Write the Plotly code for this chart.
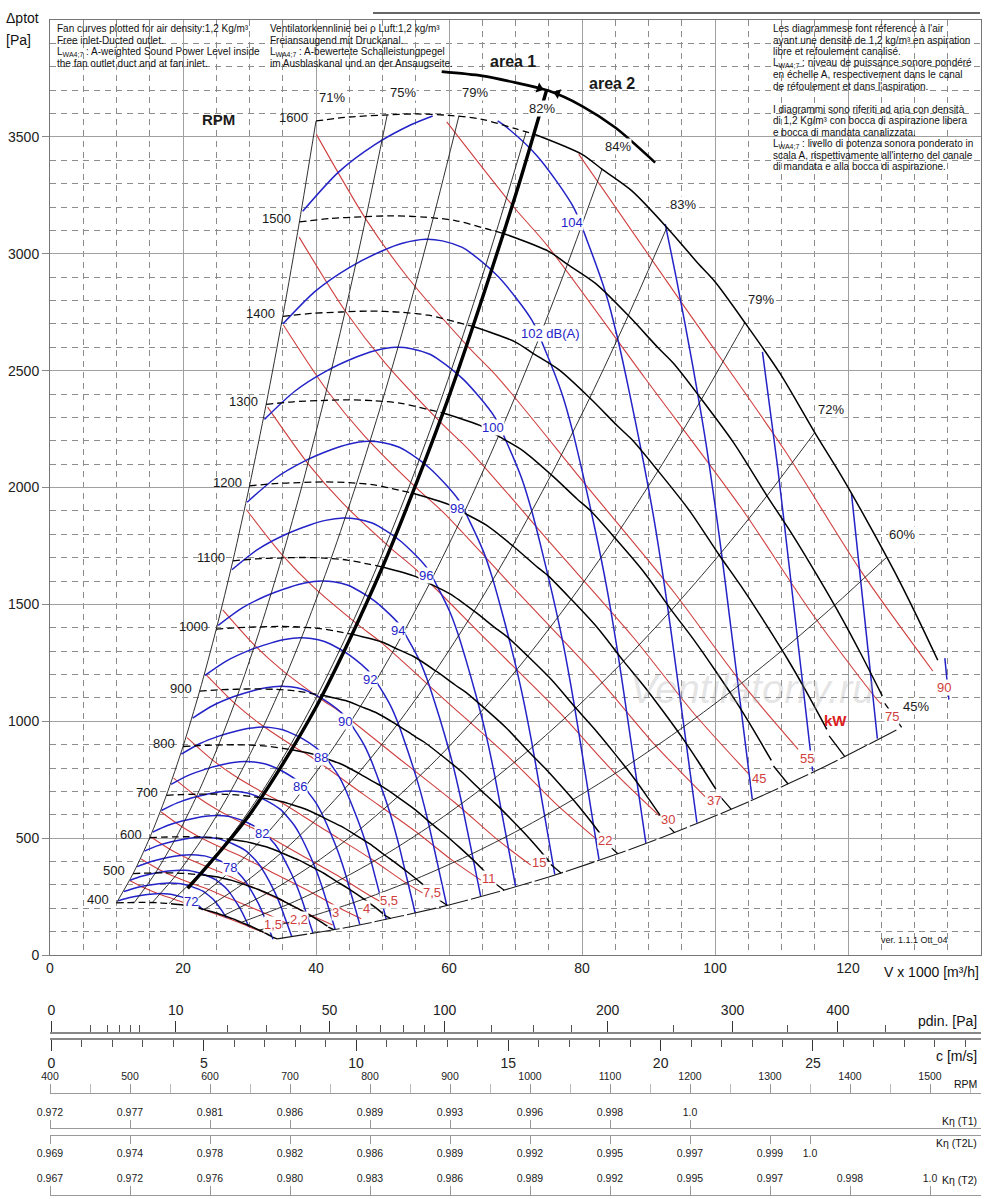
import numpy as np
import plotly.graph_objects as go

# ---------------- values ----------------
# flow V in 1000 m3/h, total pressure in Pa

rpm_list = [400, 500, 600, 700, 800, 900, 1000, 1100, 1200, 1300, 1400, 1500, 1600]

# 1600 rpm characteristic; the other speeds follow the fan laws (V ~ n, dp ~ n^2)
v_1600 = [40, 45, 50, 55, 60, 65, 70, 72.75, 80, 83, 87.5, 93, 97.5, 100,
          104.5, 109.8, 115, 119, 123, 127, 130, 133.5]
p_1600 = [3568, 3585, 3593, 3598, 3592, 3575, 3535, 3512, 3425, 3362, 3269,
          3105, 2957, 2880, 2705, 2487, 2235, 2050, 1850, 1640, 1470, 1261]
n_dashed = 8                      # points left of the area 1 / area 2 boundary
runout_v = [133.9, 136.6]         # short run-out down to the lower limit
runout_p = [1225, 1108]

# iso-efficiency parabolas, given by the point where they meet the 1600 rpm curve
eff_text = ["71%", "75%", "79%", "82%", "84%", "83%", "79%", "72%", "60%"]
eff_v = [40, 50.7, 61.5, 71.6, 83, 92.75, 104.5, 115, 125.75]
eff_p = [3568, 3593, 3590, 3522, 3362, 3112, 2705, 2235, 1700]

# lower limit of the field (45%)
lim_v = [34.15, 45, 60, 75, 90, 105, 117, 127.5]
lim_p = [69, 120, 214, 334, 481, 655, 813, 966]

# thick boundary between area 1 and area 2, and the arc with the arrows
area_v = [20.7, 30, 40, 50, 60, 70, 74.7]
area_p = [285, 600, 1060, 1660, 2390, 3250, 3703]
arc_v = [58.9, 65, 70, 75, 80, 85, 91]
arc_p = [3779, 3761, 3732, 3697, 3632, 3540, 3390]
arrow_v = [73.6, 76.3]
arrow_p = [3708, 3686]

# sound power: the 102 dB(A) line; the other levels are the same line moved along the fan laws
db_base_v = [35.0, 40, 45, 50, 53, 56.5, 59, 62, 63.2, 67.5, 72.5, 74.5, 77, 78.5,
             80, 82, 83.7, 85.5, 86.8, 88.2, 89.2, 89.6]
db_base_p = [2699, 2842, 2941, 3013, 3045, 3062, 3055, 3027, 3005, 2899, 2714, 2585,
             2400, 2251, 2073, 1816, 1575, 1271, 1023, 752, 558, 480]
db_levels = [72, 74, 76, 78, 80, 82, 84, 86, 88, 90, 92, 94, 96, 98, 100, 102,
             104, 106, 108, 110, 112]
db_start_v = [10.25, 11.1, 12.05, 13.1, 14.2, 15.45, 16.75, 18.2, 19.75, 21.45, 23.3,
              25.3, 27.35, 29.65, 32.25, 35.0, 38.0, 41.25, 44.8, 48.6, 52.8]
db_labelled = [72, 78, 82, 86, 88, 90, 92, 94, 96, 98, 100, 102, 104]
db_label_v, db_label_p = 72.3, 2660

# shaft power: the 90 kW line; the other sizes scale with n^3
kw_base_v = [47.2, 56.0, 63.4, 74.2, 79.5, 95, 110.5, 122, 132.75]
kw_base_p = [4875, 4370, 4025, 3610, 3426, 2790, 2158, 1640, 1215]
kw_values = [1.5, 2.2, 3, 4, 5.5, 7.5, 11, 15, 22, 30, 37, 45, 55, 75, 90]
kw_text = ["1,5", "2,2", "3", "4", "5,5", "7,5", "11", "15", "22", "30", "37", "45",
           "55", "75", "90"]
kw_end_v = [32.5, 36.0, 42.5, 46.8, 50.0, 56.25, 64.8, 72.3, 82.3, 91.6, 98.5, 105.2,
            112.5, 125.0, 132.75]
kw_label_v = [33.6, 37.5, 43.0, 47.6, 51.0, 57.4, 66.0, 73.6, 83.4, 93.0, 99.8, 106.6,
              113.8, 126.6, 134.4]
kw_label_p = [130, 150, 180, 201, 235, 269, 329, 396, 489, 580, 663, 755, 842, 1019, 1145]

# secondary scales under the chart
rho = 1.2
v_per_c = 4.58                      # 1000 m3/h per m/s of outlet velocity
pd_major = [0, 10, 50, 100, 200, 300, 400]
pd_minor = [1, 2, 3, 4, 5, 20, 30, 40, 60, 70, 80, 90, 125, 150, 175, 250, 350, 450]
c_major = [0, 5, 10, 15, 20, 25]
rpm_ticks = [400, 500, 600, 700, 800, 900, 1000, 1100, 1200, 1300, 1400, 1500]
rpm_minor = [450, 550, 650, 750, 850, 950, 1050, 1150, 1250, 1350, 1450, 1550]
k_t1_rpm = [400, 500, 600, 700, 800, 900, 1000, 1100, 1200]
k_t1 = ["0.972", "0.977", "0.981", "0.986", "0.989", "0.993", "0.996", "0.998", "1.0"]
k_t2l_rpm = [400, 500, 600, 700, 800, 900, 1000, 1100, 1200, 1300, 1350]
k_t2l = ["0.969", "0.974", "0.978", "0.982", "0.986", "0.989", "0.992", "0.995",
         "0.997", "0.999", "1.0"]
k_t2_rpm = [400, 500, 600, 700, 800, 900, 1000, 1100, 1200, 1300, 1400, 1500]
k_t2 = ["0.967", "0.972", "0.976", "0.980", "0.983", "0.986", "0.989", "0.992",
        "0.995", "0.997", "0.998", "1.0"]

# ---------------- page geometry ----------------
W, H = 1000, 1199
ML, MR, MT, MB = 50, 19, 20, 4
V_MAX = 140


def px_x(x):
    return (x - ML) / (W - ML - MR)


def px_y(y):
    return (H - MB - y) / (H - MT - MB)


BLUE = "rgb(35,35,200)"
RED = "rgb(208,62,62)"
FONT = "Liberation Sans, Arial, sans-serif"
NARROW = "Liberation Sans Narrow, Arial Narrow, Liberation Sans, sans-serif"

fig = go.Figure()


def fan_scale(vs, ps, s):
    return [v * s for v in vs], [p * s * s for p in ps]


def add_line(x, y, color, width, dash="solid", shape="spline"):
    fig.add_trace(go.Scatter(x=x, y=y, mode="lines", hoverinfo="skip", showlegend=False,
                             connectgaps=False,
                             line=dict(color=color, width=width, dash=dash, shape=shape,
                                       smoothing=0.8)))


low_v, low_p = fan_scale(v_1600, p_1600, 400 / 1600)


def trim(xs, ys):
    # keep only the part inside the fan field
    xa = np.asarray(xs, float)
    ya = np.asarray(ys, float)
    top = np.interp(xa, v_1600, p_1600)
    low = np.where(xa <= low_v[-1], np.interp(xa, low_v, low_p), np.interp(xa, lim_v, lim_p))
    ok = (ya <= top + 15) & (ya >= low - 10)
    return ([float(a) if k else None for a, k in zip(xa, ok)],
            [float(b) if k else None for b, k in zip(ya, ok)])


# power lines
for kw, end_v in zip(kw_values, kw_end_v):
    s = (kw / 90) ** (1 / 3)
    xs, ys = fan_scale(kw_base_v, kw_base_p, s)
    keep = [i for i, x in enumerate(xs) if x < end_v]
    xs = [xs[i] for i in keep] + [end_v]
    ys = [ys[i] for i in keep] + [float(np.interp(end_v / s, kw_base_v, kw_base_p)) * s * s]
    xs, ys = trim(xs, ys)
    add_line(xs, ys, RED, 1.1)

# sound lines
for lev, v0 in zip(db_levels, db_start_v):
    s = v0 / db_base_v[0]
    xs, ys = trim(*fan_scale(db_base_v, db_base_p, s))
    add_line(xs, ys, BLUE, 1.5)

# efficiency parabolas
for v0, p0 in zip(eff_v, eff_p):
    xs = [v0 * n / 1600 for n in rpm_list]
    ys = [p0 * (n / 1600) ** 2 for n in rpm_list]
    add_line(xs, ys, "#1a1a1a", 0.9)

add_line(lim_v, lim_p, "#1a1a1a", 1.1, dash="30px,3px")

# speed curves
for n in rpm_list:
    s = n / 1600
    xs, ys = fan_scale(v_1600, p_1600, s)
    add_line(xs[:n_dashed], ys[:n_dashed], "black", 1.3, dash="7px,4px")
    add_line(xs[n_dashed - 1:], ys[n_dashed - 1:], "black", 1.5)
    if n < 1600:
        rx, ry = fan_scale(runout_v, runout_p, s)
        add_line(rx, ry, "black", 1.3, shape="linear")

add_line(area_v, area_p, "black", 3.4)
add_line(arc_v, arc_p, "black", 2.6)
fig.add_trace(go.Scatter(x=arrow_v, y=arrow_p, mode="markers", hoverinfo="skip",
                         showlegend=False,
                         marker=dict(symbol=["triangle-right", "triangle-left"],
                                     angle=20, size=9, color="black")))

# hidden points so the extra scales get drawn
for ax_name, x0 in [("x2", 0), ("x3", 0), ("x4", 400), ("x5", 400), ("x6", 400), ("x7", 400)]:
    fig.add_trace(go.Scatter(x=[x0], y=[-500], xaxis=ax_name, yaxis="y", mode="markers",
                             marker=dict(size=1, opacity=0), hoverinfo="skip",
                             showlegend=False))

ann = []


def data_text(x, y, text, size=13, color="#1a1a1a", xanchor="center", yanchor="middle",
              xshift=0, yshift=0, bg=None, bold=False, family=FONT):
    a = dict(x=x, y=y, xref="x", yref="y", text=f"<b>{text}</b>" if bold else text,
             showarrow=False, xanchor=xanchor, yanchor=yanchor, xshift=xshift,
             yshift=yshift, font=dict(size=size, color=color, family=family),
             borderpad=0)
    if bg:
        a["bgcolor"] = bg
    ann.append(a)


def page_text(x, y, text, size=10, color="#111", xanchor="left", family=FONT, bold=False):
    ann.append(dict(x=px_x(x), y=px_y(y), xref="paper", yref="paper",
                    text=f"<b>{text}</b>" if bold else text, showarrow=False,
                    xanchor=xanchor, yanchor="middle",
                    font=dict(size=size, color=color, family=family)))


# watermark first so the labels sit above it
data_text(105.6, 1140, "<i>Ventilatorry.ru</i>", size=40, color="rgba(165,165,165,0.3)")

# speed labels
for n in rpm_list:
    s = n / 1600
    data_text(v_1600[0] * s, p_1600[0] * s * s, str(n), xanchor="right", xshift=-7, yshift=3)

# efficiency labels
for t, v0, p0 in zip(eff_text, eff_v, eff_p):
    data_text(v0, p0, t, xshift=16, yshift=23, bg="white")
data_text(lim_v[-1], lim_p[-1], "45%", xshift=18, yshift=23, bg="white")

# sound labels
for lev, v0 in zip(db_levels, db_start_v):
    if lev not in db_labelled:
        continue
    s = v0 / db_base_v[0]
    if lev == 102:
        data_text(db_label_v * s, db_label_p * s * s, "102 dB(A)", color=BLUE,
                  xanchor="left", xshift=-11, bg="white")
    else:
        data_text(db_label_v * s, db_label_p * s * s, str(lev), color=BLUE, bg="white")

# power labels
for t, lv, lp in zip(kw_text, kw_label_v, kw_label_p):
    data_text(lv, lp, t, color=RED, bg="white")

data_text(118.1, 1005, "kW", size=15, color="rgb(220,30,30)", bold=True)
data_text(69.6, 3824, "area 1", size=16, bold=True)
data_text(84.5, 3730, "area 2", size=16, bold=True)
data_text(25.3, 3575, "RPM", size=15, bold=True)

# notes
notes_en = ["Fan curves plotted for air density:1,2 Kg/m³", "Free inlet-Ducted outlet.",
            "L<sub>WA4;7</sub> : A-weighted Sound Power Level inside",
            "the fan outlet duct and at fan inlet."]
notes_de = ["Ventilatorkennlinie bei ρ Luft:1,2 kg/m³", "Freiansaugend mit Druckanal.",
            "L<sub>WA4;7</sub> : A-bewertete Schalleistungpegel",
            "im Ausblaskanal und an der Ansaugseite."]
notes_fr_it = ["Les diagrammese font réference à l'air",
               "ayant une densité de 1,2 kg/m³ en aspiration",
               "libre et refoulement canalisé.",
               "L<sub>WA4;7</sub> : niveau de puissance sonore pondéré",
               "en échelle A, respectivement dans le canal",
               "de réfoulement et dans l'aspiration.",
               "",
               "I diagrammi sono riferiti ad aria con densità",
               "di 1,2 Kg/m³ con bocca di aspirazione libera",
               "e bocca di mandata canalizzata.",
               "L<sub>WA4;7</sub> : livello di potenza sonora ponderato in",
               "scala A, rispettivamente all'interno del canale",
               "di mandata e alla bocca di aspirazione."]
for i, t in enumerate(notes_en):
    page_text(55, 28.5 + 11.7 * i, t)
for i, t in enumerate(notes_de):
    page_text(268, 28.5 + 11.7 * i, t)
for i, t in enumerate(notes_fr_it):
    if t:
        page_text(771, 28.5 + 11.53 * i, t)

page_text(4, 18, "Δptot", size=14)
page_text(4, 40, "[Pa]", size=14)
page_text(981, 972, "V x 1000 [m³/h]", size=14, xanchor="right")
page_text(979, 1021, "pdin. [Pa]", size=14, xanchor="right")
page_text(979, 1056, "c [m/s]", size=14, xanchor="right")
page_text(979, 1084, "RPM", size=10.5, xanchor="right", family=NARROW)
page_text(979, 1121, "Kη (T1)", size=10.5, xanchor="right", family=NARROW)
page_text(979, 1143, "Kη (T2L)", size=10.5, xanchor="right", family=NARROW)
page_text(979, 1180, "Kη (T2)", size=10.5, xanchor="right", family=NARROW)
page_text(950, 940, "ver. 1.1.1 Ott_04", size=9, xanchor="right")

grid_dash = "6px,5px"
c_lo = -1.5 / 30.46
c_hi = c_lo + (V_MAX / v_per_c)
rpm_lo, rpm_hi = 400, 400 + (W - ML - MR) / 0.8


def scale_axis(position, side, rng, tickvals, ticktext=None, ticklen=9, tickcolor="#999",
               minor=None, size=10.5, family=NARROW, linecolor="#999", linewidth=1):
    d = dict(overlaying="x", anchor="free", position=position, side=side, range=rng,
             tickmode="array", tickvals=tickvals, ticks="outside", ticklen=ticklen,
             tickcolor=tickcolor, tickwidth=1, showline=True, linecolor=linecolor,
             linewidth=linewidth, showgrid=False, zeroline=False, automargin=False,
             tickfont=dict(size=size, family=family, color="#222"))
    if ticktext is not None:
        d["ticktext"] = ticktext
    if minor is not None:
        d["minor"] = minor
    return d


pd_pos = [float(np.sqrt(2 * p / rho)) for p in pd_major]
pd_minor_pos = [float(np.sqrt(2 * p / rho)) for p in pd_minor]

fig.update_layout(
    width=W, height=H,
    margin=dict(l=ML, r=MR, t=MT, b=MB, autoexpand=False),
    paper_bgcolor="white", plot_bgcolor="white",
    font=dict(family=FONT, size=13, color="#222"),
    showlegend=False,
    xaxis=dict(range=[0, V_MAX], domain=[0, 1], tickmode="array",
               tickvals=[0, 20, 40, 60, 80, 100, 120], showgrid=True,
               gridcolor="#a0a0a0", gridwidth=1, zeroline=False, showline=True,
               linecolor="#777", mirror=True, ticks="", tickfont=dict(size=14),
               automargin=False,
               minor=dict(dtick=5, tick0=0, showgrid=True, gridcolor="#8c8c8c",
                          griddash=grid_dash, gridwidth=1)),
    yaxis=dict(range=[0, 4000], domain=[px_y(955), 1], tickmode="array",
               tickvals=[0, 500, 1000, 1500, 2000, 2500, 3000, 3500], showgrid=True,
               gridcolor="#a0a0a0", gridwidth=1, zeroline=False, showline=True,
               linecolor="#777", mirror=True, ticks="outside", ticklen=7,
               tickcolor="#888", tickfont=dict(size=14), automargin=False,
               minor=dict(dtick=100, tick0=0, showgrid=True, gridcolor="#8c8c8c",
                          griddash=grid_dash, gridwidth=1)),
    xaxis2=scale_axis(px_y(1032.7), "top", [c_lo, c_hi], pd_pos,
                      [str(p) for p in pd_major], ticklen=11, tickcolor="#333",
                      minor=dict(tickmode="array", tickvals=pd_minor_pos, ticks="outside",
                                 ticklen=7, tickcolor="#555"),
                      size=14, family=FONT, linecolor="#888", linewidth=1.5),
    xaxis3=scale_axis(px_y(1039.3), "bottom", [c_lo, c_hi], c_major,
                      [str(c) for c in c_major], ticklen=11, tickcolor="#333",
                      minor=dict(dtick=1, tick0=0, ticks="outside", ticklen=7,
                                 tickcolor="#555"),
                      size=14, family=FONT, linecolor="#888", linewidth=1.5),
    xaxis4=scale_axis(px_y(1093.3), "top", [rpm_lo, rpm_hi], rpm_ticks,
                      [str(r) for r in rpm_ticks], ticklen=9,
                      minor=dict(tickmode="array", tickvals=rpm_minor, ticks="outside",
                                 ticklen=9, tickcolor="#bbb")),
    xaxis5=scale_axis(px_y(1128.3), "top", [rpm_lo, rpm_hi], k_t1_rpm, k_t1, ticklen=8),
    xaxis6=scale_axis(px_y(1135), "bottom", [rpm_lo, rpm_hi], k_t2l_rpm, k_t2l, ticklen=8),
    xaxis7=scale_axis(px_y(1195), "top", [rpm_lo, rpm_hi], k_t2_rpm, k_t2, ticklen=9),
    annotations=ann,
    shapes=[dict(type="line", xref="paper", yref="paper", x0=px_x(373), x1=px_x(980),
                 y0=px_y(13), y1=px_y(13), line=dict(color="#333", width=1.5))],
)

# the page body has a default margin; drop it so the figure sits at the window corner
fig.write_html("out.html", config={"displayModeBar": False},
               post_script="document.body.style.margin='0';"
                           "document.body.style.overflow='hidden';")
